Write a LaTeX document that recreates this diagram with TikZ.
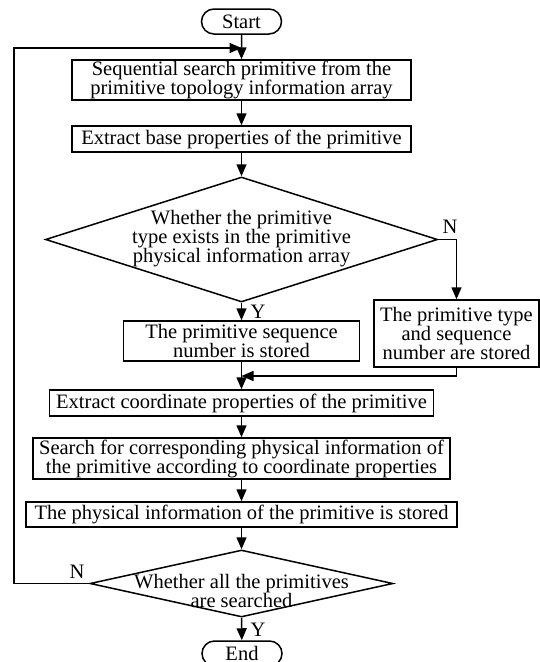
\documentclass[tikz,border=0pt]{standalone}
\usepackage{fontspec}
\setmainfont{Liberation Serif}
\usetikzlibrary{arrows.meta,shapes.geometric,shapes.misc}
\newcommand\chartfont{\fontsize{20.5}{19}\selectfont}
\begin{document}
\begin{tikzpicture}[x=1pt,y=-1pt,
  every node/.style={font=\chartfont},
  proc/.style={draw, line width=1.5pt, rectangle, inner sep=0pt, align=center},
  term/.style={draw, line width=1.5pt, rounded rectangle, inner sep=0pt,
               minimum width=80pt, minimum height=25pt},
  decide/.style={draw, line width=1.5pt, diamond, inner sep=0pt},
  dtext/.style={align=center, inner sep=0pt},
  flow/.style={line width=1.5pt, -{Triangle[length=12pt,width=10pt]}},
  tag/.style={inner sep=0pt}]
\useasboundingbox (0,0) rectangle (539,662);

% terminals
\node[term] (start) at (241.5,21.5) {Start};
\node[term] (finish) at (242,653.5) {End};

% process boxes
\node[proc, minimum width=339pt, minimum height=40pt] (b1) at (241.5,80)
  {Sequential search primitive from the\\primitive topology information array};
\node[proc, minimum width=339pt, minimum height=26pt] (b2) at (241.5,139)
  {Extract base properties of the primitive};
\node[proc, minimum width=236pt, minimum height=40pt] (by) at (241.5,341)
  {The primitive sequence\\number is stored};
\node[proc, minimum width=165pt, minimum height=67pt] (bn) at (456.5,333.5)
  {The primitive type\\and sequence\\number are stored};
\node[proc, minimum width=384pt, minimum height=26pt] (b4) at (241.5,403)
  {Extract coordinate properties of the primitive};
\node[proc, minimum width=417pt, minimum height=41pt] (b5) at (241.5,458.5)
  {Search for corresponding physical information of\\the primitive according to coordinate properties};
\node[proc, minimum width=431pt, minimum height=25pt] (b6) at (241.5,514.5)
  {The physical information of the primitive is stored};

% decisions
\node[decide, minimum width=392pt, minimum height=125pt] (d1) at (241.5,239.5) {};
\node[dtext] (d1t) at (241.5,238.5)
  {Whether the primitive\\type exists in the primitive\\physical information array};
\node[decide, minimum width=303pt, minimum height=67pt] (d2) at (241.5,583.5) {};
\node[dtext] (d2t) at (241.5,591)
  {Whether all the primitives\\are searched};

% branch labels
\node[tag] (n1) at (450,227) {N};
\node[tag] (y1) at (258,312) {Y};
\node[tag] (n2) at (77,572) {N};
\node[tag] (y2) at (258,630) {Y};

% junctions
\coordinate (loopin) at (241.5,48);
\coordinate (merge) at (241.5,376);

% connectors
\draw[flow] (start) -- (b1);
\draw[flow] (b1) -- (b2);
\draw[flow] (b2) -- (d1.north);
\draw[flow] (d1.south) -- (by);
\draw[flow] (d1.east) -| (bn.north);
\draw[flow] (bn.south) |- (merge);
\draw[flow] (by) -- (b4);
\draw[flow] (b4) -- (b5);
\draw[flow] (b5) -- (b6);
\draw[flow] (b6) -- (d2.north);
\draw[flow] (d2.south) -- (finish);
\draw[flow] (d2.west) -- (14,583.5) |- (loopin);
\end{tikzpicture}
\end{document}
